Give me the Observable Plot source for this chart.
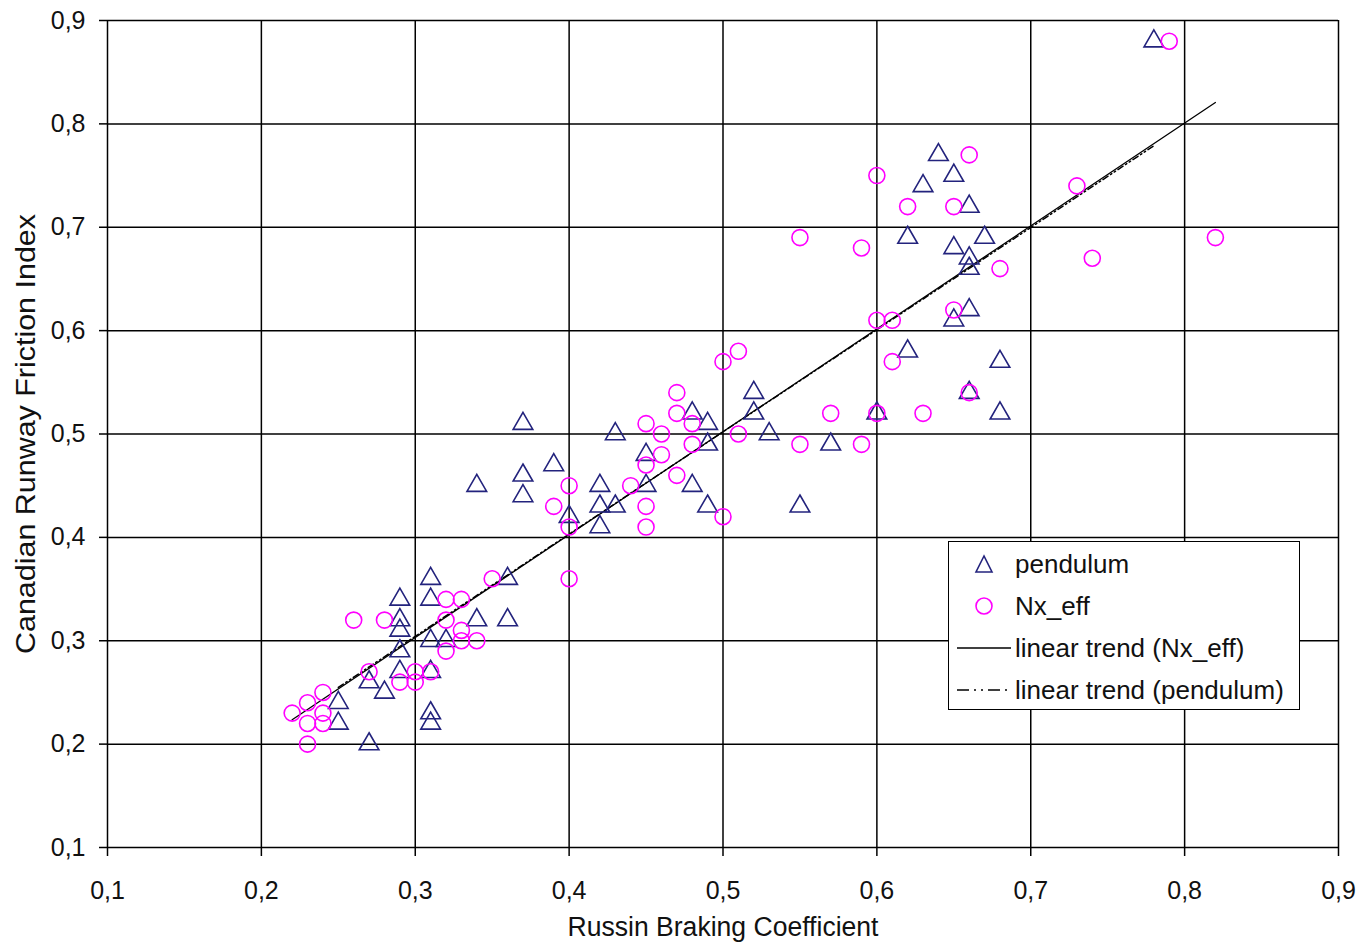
<!DOCTYPE html>
<html><head><meta charset="utf-8">
<script src="https://cdn.jsdelivr.net/npm/d3@7"></script>
<script src="https://cdn.jsdelivr.net/npm/@observablehq/plot@0.6"></script>
<style>
body{margin:0;background:#fff;font-family:"Liberation Sans",Arial,sans-serif;}
#wrap{position:relative;width:1369px;height:943px;}
#legend{position:absolute;left:948px;top:541px;width:350px;height:167px;border:1.5px solid #000;background:#fff;font-size:26px;color:#111;}
#legend .row{position:absolute;left:0;height:40px;display:flex;align-items:center;}
#legend svg{display:block}
</style></head>
<body><div id="wrap"><div id="chart"></div>
<div id="legend">
 <div class="row" style="top:2px"><svg width="66" height="40"><path d="M35,12 L27,28 L43,28 Z" fill="none" stroke="#23237d" stroke-width="1.6"/></svg><span>pendulum</span></div>
 <div class="row" style="top:44px"><svg width="66" height="40"><circle cx="35" cy="20" r="8" fill="none" stroke="#ff00ff" stroke-width="1.6"/></svg><span>Nx_eff</span></div>
 <div class="row" style="top:86px"><svg width="66" height="40"><line x1="8" x2="62" y1="20" y2="20" stroke="#000" stroke-width="1.5"/></svg><span>linear trend (Nx_eff)</span></div>
 <div class="row" style="top:128px"><svg width="66" height="40"><line x1="8" x2="62" y1="20" y2="20" stroke="#000" stroke-width="1.5" stroke-dasharray="12,5,2,5,2,5"/></svg><span>linear trend (pendulum)</span></div>
</div></div>
<script>
const pendulumX = [0.78,0.64,0.65,0.63,0.66,0.62,0.67,0.65,0.66,0.66,0.66,0.65,0.62,0.68,0.52,0.66,0.68,0.60,0.52,0.48,0.37,0.49,0.43,0.53,0.49,0.57,0.45,0.39,0.37,0.34,0.42,0.48,0.45,0.37,0.43,0.42,0.49,0.55,0.40,0.42,0.31,0.36,0.29,0.31,0.29,0.34,0.36,0.29,0.31,0.32,0.29,0.29,0.31,0.27,0.28,0.25,0.31,0.31,0.25,0.27];
const pendulumY = [0.88,0.77,0.75,0.74,0.72,0.69,0.69,0.68,0.67,0.66,0.62,0.61,0.58,0.57,0.54,0.54,0.52,0.52,0.52,0.52,0.51,0.51,0.50,0.50,0.49,0.49,0.48,0.47,0.46,0.45,0.45,0.45,0.45,0.44,0.43,0.43,0.43,0.43,0.42,0.41,0.36,0.36,0.34,0.34,0.32,0.32,0.32,0.31,0.30,0.30,0.29,0.27,0.27,0.26,0.25,0.24,0.23,0.22,0.22,0.20];
const nxEffX = [0.79,0.66,0.60,0.73,0.62,0.65,0.55,0.82,0.59,0.74,0.68,0.65,0.60,0.61,0.51,0.50,0.61,0.47,0.66,0.47,0.57,0.60,0.63,0.45,0.48,0.46,0.51,0.48,0.55,0.59,0.46,0.45,0.47,0.40,0.44,0.39,0.45,0.50,0.40,0.45,0.40,0.35,0.32,0.33,0.26,0.28,0.32,0.33,0.33,0.34,0.32,0.27,0.30,0.31,0.29,0.30,0.24,0.23,0.22,0.24,0.23,0.24,0.23];
const nxEffY = [0.88,0.77,0.75,0.74,0.72,0.72,0.69,0.69,0.68,0.67,0.66,0.62,0.61,0.61,0.58,0.57,0.57,0.54,0.54,0.52,0.52,0.52,0.52,0.51,0.51,0.50,0.50,0.49,0.49,0.49,0.48,0.47,0.46,0.45,0.45,0.43,0.43,0.42,0.41,0.41,0.36,0.36,0.34,0.34,0.32,0.32,0.32,0.31,0.30,0.30,0.29,0.27,0.27,0.27,0.26,0.26,0.25,0.24,0.23,0.23,0.22,0.22,0.20];
const tickValues = [0.1,0.2,0.3,0.4,0.5,0.6,0.7,0.8,0.9];

const pendulum = pendulumX.map((x,i)=>({x, y: pendulumY[i]}));
const nxEff = nxEffX.map((x,i)=>({x, y: nxEffY[i]}));
const fmt = d => d.toFixed(1).replace(".", ",");

const chart = Plot.plot({
  width: 1369, height: 943,
  marginLeft: 107, marginRight: 31, marginTop: 20, marginBottom: 96,
  style: {fontFamily: '"Liberation Sans", Arial, sans-serif', fontSize: "25px", color: "#111", background: "#fff"},
  x: {domain: [0.1, 0.9], ticks: tickValues},
  y: {domain: [0.1, 0.9], ticks: tickValues},
  marks: [
    Plot.gridX(tickValues, {stroke: "#000", strokeOpacity: 1, strokeWidth: 1.5}),
    Plot.gridY(tickValues, {stroke: "#000", strokeOpacity: 1, strokeWidth: 1.5}),
    Plot.axisX(tickValues, {tickFormat: fmt, tickSize: 9, tickPadding: 25, stroke: "#000", strokeWidth: 1.5,
      label: "Russin Braking Coefficient", labelAnchor: "center", labelArrow: "none", labelOffset: 88}),
    Plot.axisY(tickValues, {tickFormat: fmt, tickSize: 8, tickPadding: 14, stroke: "#000", strokeWidth: 1.5,
      label: "Canadian Runway Friction Index", labelAnchor: "center", labelArrow: "none", labelOffset: 92}),
    Plot.linearRegressionY(pendulum, {x: "x", y: "y", ci: 0, stroke: "#000", strokeWidth: 1.5, strokeDasharray: "6,3,1.5,3,1.5,3"}),
    Plot.linearRegressionY(nxEff, {x: "x", y: "y", ci: 0, stroke: "#000", strokeWidth: 1.3}),
    Plot.dot(pendulum, {x: "x", y: "y", symbol: "triangle", r: 7.3, stroke: "#23237d", strokeWidth: 1.6, fill: "none"}),
    Plot.dot(nxEff, {x: "x", y: "y", symbol: "circle", r: 8, stroke: "#ff00ff", strokeWidth: 1.6, fill: "none"})
  ]
});
document.getElementById("chart").append(chart);
d3.select(chart).selectAll('g[aria-label="x-axis label"] text')
  .style("font-size", "27px").attr("textLength", 311).attr("lengthAdjust", "spacingAndGlyphs");
d3.select(chart).selectAll('g[aria-label="y-axis label"] text')
  .style("font-size", "27px").attr("textLength", 440).attr("lengthAdjust", "spacingAndGlyphs");
</script>
</body></html>
